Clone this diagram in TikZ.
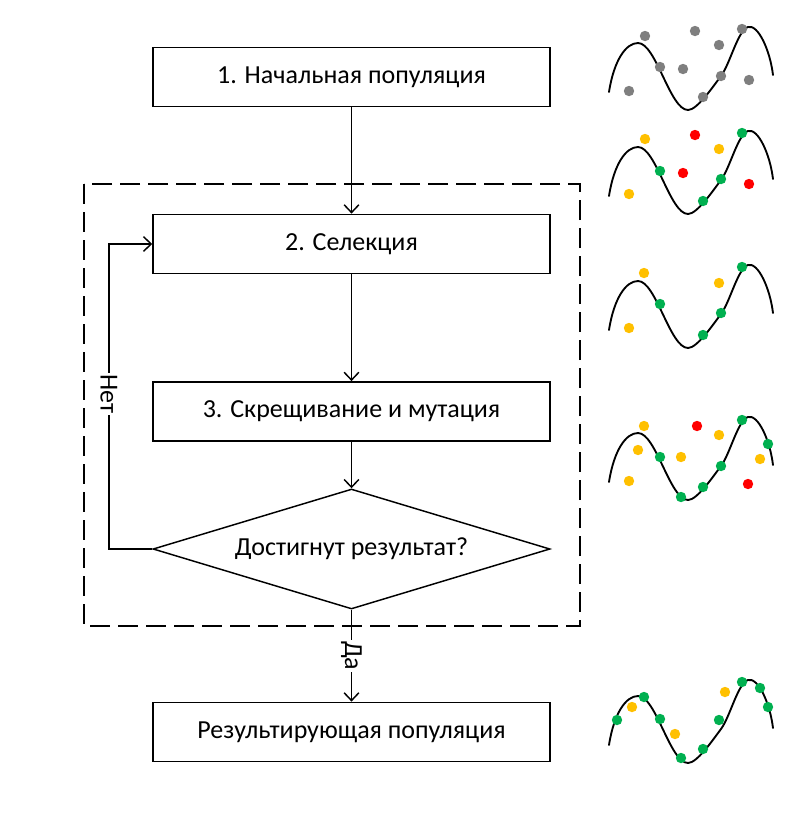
\documentclass[tikz,border=0pt]{standalone}
\usepackage{fontspec}
\setmainfont{Carlito}
\usetikzlibrary{arrows.meta,shapes.geometric}
\definecolor{dotgray}{HTML}{7F7F7F}
\definecolor{dotyel}{HTML}{FFC000}
\definecolor{dotred}{HTML}{FF0000}
\definecolor{dotgrn}{HTML}{00B050}
\newcommand\mywave{(609,92) .. controls (614,60) and (626,43) .. (638,43)
  .. controls (656,43) and (670,110) .. (688,110)
  .. controls (697,110) and (712,88) .. (721,76)
  .. controls (730,64) and (738,30) .. (748,27)
  .. controls (758,24) and (770,50) .. (773,75)}
\begin{document}
\begin{tikzpicture}[x=0.75pt,y=-0.75pt,
  txt/.style={font=\fontsize{19.5}{23}\selectfont},
  stepbox/.style={draw, line width=1.1pt, minimum width=297.75pt, minimum height=44.5pt, inner sep=0pt, txt},
  decision/.style={draw, diamond, line width=1.1pt, minimum width=297.75pt, minimum height=90pt, inner sep=0pt, aspect=3.3, txt},
  arr/.style={line width=1.1pt, -{Straight Barb[length=5.8pt,width=11pt,line width=1.1pt]}},
  lbl/.style={fill=white, inner sep=1pt, rotate=-90, txt},
  wave/.style={line width=1.4pt, line cap=round},
  frame/.style={line width=1.1pt, dash pattern=on 15pt off 6pt},
]
\useasboundingbox (0,0) rectangle (808,815);
\fill[white] (0,0) rectangle (808,815);

% dashed frame
\draw[frame] (84,184) rectangle (580,626);

% nodes
\node[stepbox] (b1) at (351.5,77) {\raisebox{-1pt}{1. Начальная популяция}};
\node[stepbox] (b2) at (351.5,244) {\raisebox{-1pt}{2. Селекция}};
\node[stepbox] (b3) at (351.5,411.5) {\raisebox{-1pt}{3. Скрещивание и мутация}};
\node[decision] (d) at (351.5,549) {\raisebox{-1pt}{Достигнут результат?}};
\node[stepbox] (b4) at (351.5,732) {\raisebox{-1pt}{Результирующая популяция}};
\coordinate (nb) at (109,549);

% connectors
\draw[arr] (b1) -- (b2);
\draw[arr] (b2) -- (b3);
\draw[arr] (b3) -- (d);
\draw[arr] (d.south) -- node[lbl, pos=0.5] (yes) {Да} (b4.north);
\draw[arr] (d.west) -- (nb) |- (b2.west);
\node[lbl] (no) at (109,394) {Нет};

% waves
\foreach \dy in {0,104,238,390,653}{
  \begin{scope}[shift={(0,\dy)}]
    \draw[wave] \mywave;
  \end{scope}
}

% plot 1 dots
\foreach \p in {(645,36),(695,31),(742,29),(719,45),(660,67),(683,69),(721,76),(749,80),(629,91),(703,97)}
  \fill[dotgray] \p circle[radius=3.9pt];

% plot 2 dots
\foreach \p in {(645,139),(719,149),(629,194)} \fill[dotyel] \p circle[radius=3.9pt];
\foreach \p in {(695,135),(683,173),(749,184)} \fill[dotred] \p circle[radius=3.9pt];
\foreach \p in {(742,133),(660,171),(721,179),(703,201)} \fill[dotgrn] \p circle[radius=3.9pt];

% plot 3 dots
\foreach \p in {(644,273),(719,283),(629,328)} \fill[dotyel] \p circle[radius=3.9pt];
\foreach \p in {(742,267),(660,304),(721,313),(703,335)} \fill[dotgrn] \p circle[radius=3.9pt];

% plot 4 dots
\foreach \p in {(644,426),(719,435),(638,450),(681,457),(760,459),(629,481)} \fill[dotyel] \p circle[radius=3.9pt];
\foreach \p in {(697,426),(748,484)} \fill[dotred] \p circle[radius=3.9pt];
\foreach \p in {(742,420),(660,457),(768,444),(721,466),(703,487),(681,497)} \fill[dotgrn] \p circle[radius=3.9pt];

% plot 5 dots
\foreach \p in {(632,707),(675,734),(725,692)} \fill[dotyel] \p circle[radius=3.9pt];
\foreach \p in {(617,720),(644,697),(660,719),(681,758),(703,749),(719,720),(742,682),(760,688),(768,707)} \fill[dotgrn] \p circle[radius=3.9pt];
\end{tikzpicture}
\end{document}
